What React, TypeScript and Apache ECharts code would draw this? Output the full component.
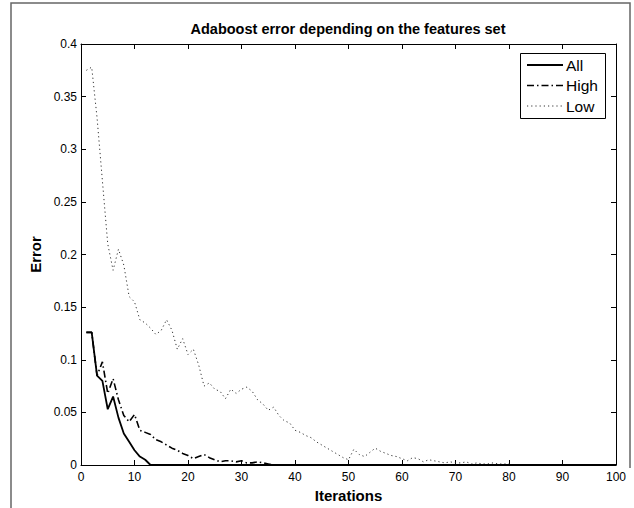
import React, { useEffect, useRef } from "react";
import * as echarts from "echarts";

const iterations: number[] = [
  1, 2, 3, 4, 5, 6, 7, 8, 9, 10, 11, 12, 13, 14, 15, 16, 17, 18, 19, 20,
  21, 22, 23, 24, 25, 26, 27, 28, 29, 30, 31, 32, 33, 34, 35, 36, 37, 38, 39, 40,
  41, 42, 43, 44, 45, 46, 47, 48, 49, 50, 51, 52, 53, 54, 55, 56, 57, 58, 59, 60,
  61, 62, 63, 64, 65, 66, 67, 68, 69, 70, 71, 72, 73, 74, 75, 76, 77, 78, 79, 80,
  81, 82, 83, 84, 85, 86, 87, 88, 89, 90, 91, 92, 93, 94, 95, 96, 97, 98, 99, 100,
];

const errorAll: number[] = [
  0.126, 0.126, 0.085, 0.08, 0.053, 0.065, 0.045, 0.03, 0.022, 0.014,
  0.008, 0.005, 0, 0, 0, 0, 0, 0, 0, 0,
  0, 0, 0, 0, 0, 0, 0, 0, 0, 0,
  0, 0, 0, 0, 0, 0, 0, 0, 0, 0,
  0, 0, 0, 0, 0, 0, 0, 0, 0, 0,
  0, 0, 0, 0, 0, 0, 0, 0, 0, 0,
  0, 0, 0, 0, 0, 0, 0, 0, 0, 0,
  0, 0, 0, 0, 0, 0, 0, 0, 0, 0,
  0, 0, 0, 0, 0, 0, 0, 0, 0, 0,
  0, 0, 0, 0, 0, 0, 0, 0, 0, 0,
];

const errorHigh: number[] = [
  0.126, 0.126, 0.085, 0.098, 0.068, 0.082, 0.062, 0.047, 0.041, 0.048,
  0.033, 0.031, 0.029, 0.024, 0.022, 0.019, 0.016, 0.014, 0.011, 0.009,
  0.006, 0.008, 0.01, 0.007, 0.005, 0.003, 0.004, 0.004, 0.003, 0.004,
  0.002, 0.002, 0.003, 0.002, 0.001, 0, 0, 0, 0, 0,
  0, 0, 0, 0, 0, 0, 0, 0, 0, 0,
  0, 0, 0, 0, 0, 0, 0, 0, 0, 0,
  0, 0, 0, 0, 0, 0, 0, 0, 0, 0,
  0, 0, 0, 0, 0, 0, 0, 0, 0, 0,
  0, 0, 0, 0, 0, 0, 0, 0, 0, 0,
  0, 0, 0, 0, 0, 0, 0, 0, 0, 0,
];

const errorLow: number[] = [
  0.375, 0.378, 0.33, 0.27, 0.21, 0.185, 0.205, 0.19, 0.16, 0.155,
  0.138, 0.135, 0.13, 0.124, 0.128, 0.138, 0.128, 0.11, 0.12, 0.105,
  0.11, 0.095, 0.075, 0.078, 0.072, 0.07, 0.063, 0.072, 0.068, 0.072,
  0.074, 0.07, 0.062, 0.058, 0.052, 0.055, 0.047, 0.042, 0.04, 0.033,
  0.031, 0.028, 0.026, 0.022, 0.019, 0.016, 0.013, 0.01, 0.007, 0.005,
  0.015, 0.01, 0.008, 0.012, 0.016, 0.013, 0.011, 0.009, 0.008, 0.006,
  0.004, 0.007, 0.006, 0.003, 0.005, 0.004, 0.003, 0.002, 0.003, 0.002,
  0.002, 0.003, 0.001, 0.002, 0.001, 0.001, 0.002, 0.001, 0.001, 0.001,
  0, 0, 0, 0, 0, 0, 0, 0, 0, 0,
  0, 0, 0, 0, 0, 0, 0, 0, 0, 0,
];

const seriesNames = ["All", "High", "Low"];
const xTicks = { min: 0, max: 100, interval: 10 };
const yTicks = { min: 0, max: 0.4, interval: 0.05 };

const FONT = "Liberation Sans, Arial, Helvetica, sans-serif";

const lineStyles = [
  { color: "#000", width: 1.8, dash: null as number[] | null },
  { color: "#000", width: 1.6, dash: [7, 3, 1.5, 3] },
  { color: "#333", width: 1, dash: [1.2, 3] },
];

export default function App() {
  const ref = useRef<HTMLDivElement>(null);

  useEffect(() => {
    if (!ref.current) return;
    const chart = echarts.init(ref.current, undefined, { renderer: "svg" });
    const pairs = (ys: number[]) => iterations.map((x, i) => [x, ys[i]]);

    const axisLineStyle = { color: "#000", width: 1 };
    const tick = { show: true, inside: true, length: 5, lineStyle: { color: "#000", width: 1 } };

    const legendItems: any[] = [];
    seriesNames.forEach((name, i) => {
      const ls = lineStyles[i];
      const cy = 65 + i * 20.5;
      const lineStyle: any = { stroke: ls.color, lineWidth: ls.width };
      if (ls.dash) lineStyle.lineDash = ls.dash;
      legendItems.push({
        type: "line",
        z: 20,
        shape: { x1: 527, y1: cy, x2: 563, y2: cy },
        style: lineStyle,
        silent: true,
      });
      legendItems.push({
        type: "text",
        z: 20,
        x: 566,
        y: cy,
        style: {
          text: name,
          fontSize: 15.5,
          fontFamily: FONT,
          fill: "#000",
          textAlign: "left",
          textVerticalAlign: "middle",
        },
        silent: true,
      });
    });

    const mkSeries = (i: number, data: number[]) => ({
      name: seriesNames[i],
      type: "line",
      xAxisIndex: 0,
      yAxisIndex: 0,
      symbol: "none",
      data: pairs(data),
      lineStyle: {
        color: lineStyles[i].color,
        width: lineStyles[i].width,
        type: lineStyles[i].dash || "solid",
      },
      itemStyle: { color: lineStyles[i].color },
      z: 4 - i,
    });

    chart.setOption({
      animation: false,
      backgroundColor: "#fff",
      textStyle: { fontFamily: FONT },
      grid: { left: 81, top: 44, right: 18, bottom: 41, containLabel: false },
      xAxis: [
        {
          type: "value",
          position: "bottom",
          min: xTicks.min,
          max: xTicks.max,
          interval: xTicks.interval,
          axisLine: { show: true, onZero: false, lineStyle: axisLineStyle },
          axisTick: tick,
          splitLine: { show: false },
          axisLabel: { fontSize: 12, color: "#000", margin: 6, fontFamily: FONT },
          name: "Iterations",
          nameLocation: "middle",
          nameGap: 23,
          nameTextStyle: { fontSize: 15, fontWeight: "bold", color: "#000", fontFamily: FONT },
        },
        {
          type: "value",
          position: "top",
          min: xTicks.min,
          max: xTicks.max,
          interval: xTicks.interval,
          axisLine: { show: true, onZero: false, lineStyle: axisLineStyle },
          axisTick: tick,
          splitLine: { show: false },
          axisLabel: { show: false },
        },
      ],
      yAxis: [
        {
          type: "value",
          position: "left",
          min: yTicks.min,
          max: yTicks.max,
          interval: yTicks.interval,
          axisLine: { show: true, onZero: false, lineStyle: axisLineStyle },
          axisTick: tick,
          splitLine: { show: false },
          axisLabel: { fontSize: 12, color: "#000", margin: 4, fontFamily: FONT },
          name: "Error",
          nameLocation: "middle",
          nameGap: 33,
          nameTextStyle: { fontSize: 15, fontWeight: "bold", color: "#000", fontFamily: FONT },
        },
        {
          type: "value",
          position: "right",
          min: yTicks.min,
          max: yTicks.max,
          interval: yTicks.interval,
          axisLine: { show: true, onZero: false, lineStyle: axisLineStyle },
          axisTick: tick,
          splitLine: { show: false },
          axisLabel: { show: false },
        },
      ],
      series: [mkSeries(0, errorAll), mkSeries(1, errorHigh), mkSeries(2, errorLow)],
      graphic: [
        {
          type: "text",
          x: 348,
          y: 29,
          style: {
            text: "Adaboost error depending on the features set",
            fontSize: 14.5,
            fontWeight: "bold",
            fontFamily: FONT,
            fill: "#000",
            textAlign: "center",
            textVerticalAlign: "middle",
          },
        },
        {
          type: "polyline",
          shape: { points: [[11, 508], [11, 3], [630, 3], [630, 468]] },
          style: { stroke: "#666", lineWidth: 1.5, fill: "none" },
          silent: true,
        },
        {
          type: "rect",
          z: 10,
          shape: { x: 520.5, y: 53.5, width: 85, height: 65 },
          style: { stroke: "#000", lineWidth: 1, fill: "#fff" },
          silent: true,
        },
        ...legendItems,
      ],
    });

    return () => chart.dispose();
  }, []);

  return (
    <div
      ref={ref}
      style={{ position: "fixed", left: 0, top: 0, width: 634, height: 508, background: "#fff" }}
    />
  );
}
